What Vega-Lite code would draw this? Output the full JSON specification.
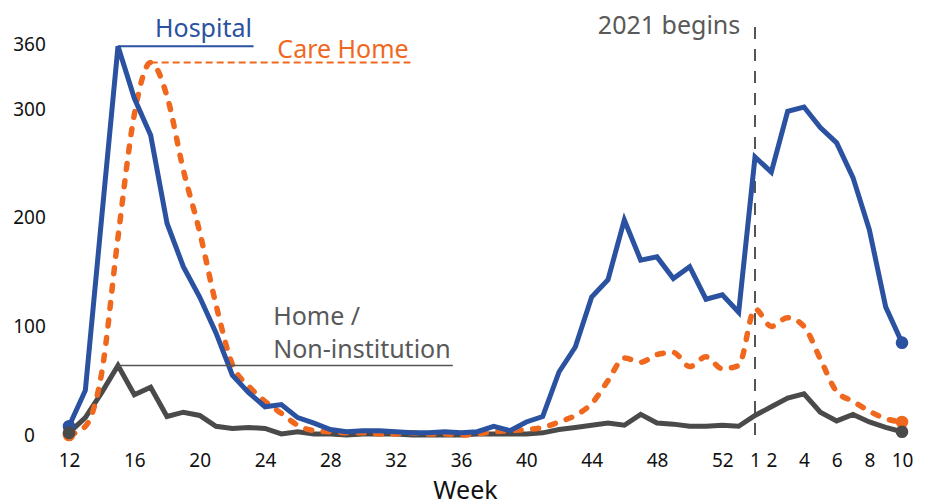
{
  "$schema": "https://vega.github.io/schema/vega-lite/v6.json",
  "width": 833,
  "height": 391,
  "autosize": {"type": "none"},
  "padding": {"left": 69, "top": 44, "right": 28, "bottom": 69},
  "background": "white",
  "config": {
    "view": {"stroke": null},
    "font": "Noto Sans",
    "axis": {"domain": false, "ticks": false, "tickSize": 0, "grid": false, "labelFont": "Noto Sans", "labelColor": "#111111", "labelFontSize": 19, "labelFontWeight": "normal", "titleFont": "Noto Sans"}
  },
  "datasets": {
    "d": [
      {"i":0,"week":12,"series":"Hospital","value":8},{"i":1,"week":13,"series":"Hospital","value":41},{"i":2,"week":14,"series":"Hospital","value":200},{"i":3,"week":15,"series":"Hospital","value":358},{"i":4,"week":16,"series":"Hospital","value":310},{"i":5,"week":17,"series":"Hospital","value":276},{"i":6,"week":18,"series":"Hospital","value":195},{"i":7,"week":19,"series":"Hospital","value":155},{"i":8,"week":20,"series":"Hospital","value":127},{"i":9,"week":21,"series":"Hospital","value":94},{"i":10,"week":22,"series":"Hospital","value":55},{"i":11,"week":23,"series":"Hospital","value":39},{"i":12,"week":24,"series":"Hospital","value":26},{"i":13,"week":25,"series":"Hospital","value":28},{"i":14,"week":26,"series":"Hospital","value":16},{"i":15,"week":27,"series":"Hospital","value":11},{"i":16,"week":28,"series":"Hospital","value":5},{"i":17,"week":29,"series":"Hospital","value":3},{"i":18,"week":30,"series":"Hospital","value":4},{"i":19,"week":31,"series":"Hospital","value":4},{"i":20,"week":32,"series":"Hospital","value":3},{"i":21,"week":33,"series":"Hospital","value":2},{"i":22,"week":34,"series":"Hospital","value":2},{"i":23,"week":35,"series":"Hospital","value":3},{"i":24,"week":36,"series":"Hospital","value":2},{"i":25,"week":37,"series":"Hospital","value":3},{"i":26,"week":38,"series":"Hospital","value":8},{"i":27,"week":39,"series":"Hospital","value":4},{"i":28,"week":40,"series":"Hospital","value":12},{"i":29,"week":41,"series":"Hospital","value":17},{"i":30,"week":42,"series":"Hospital","value":58},{"i":31,"week":43,"series":"Hospital","value":81},{"i":32,"week":44,"series":"Hospital","value":127},{"i":33,"week":45,"series":"Hospital","value":143},{"i":34,"week":46,"series":"Hospital","value":198},{"i":35,"week":47,"series":"Hospital","value":161},{"i":36,"week":48,"series":"Hospital","value":164},{"i":37,"week":49,"series":"Hospital","value":144},{"i":38,"week":50,"series":"Hospital","value":155},{"i":39,"week":51,"series":"Hospital","value":125},{"i":40,"week":52,"series":"Hospital","value":129},{"i":41,"week":53,"series":"Hospital","value":113},{"i":42,"week":1,"series":"Hospital","value":256},{"i":43,"week":2,"series":"Hospital","value":242},{"i":44,"week":3,"series":"Hospital","value":298},{"i":45,"week":4,"series":"Hospital","value":302},{"i":46,"week":5,"series":"Hospital","value":283},{"i":47,"week":6,"series":"Hospital","value":269},{"i":48,"week":7,"series":"Hospital","value":237},{"i":49,"week":8,"series":"Hospital","value":189},{"i":50,"week":9,"series":"Hospital","value":118},{"i":51,"week":10,"series":"Hospital","value":85},
      {"i":0,"week":12,"series":"Care Home","value":0},{"i":1,"week":13,"series":"Care Home","value":8},{"i":2,"week":14,"series":"Care Home","value":57},{"i":3,"week":15,"series":"Care Home","value":182},{"i":4,"week":16,"series":"Care Home","value":295},{"i":5,"week":17,"series":"Care Home","value":343},{"i":6,"week":18,"series":"Care Home","value":312},{"i":7,"week":19,"series":"Care Home","value":244},{"i":8,"week":20,"series":"Care Home","value":187},{"i":9,"week":21,"series":"Care Home","value":120},{"i":10,"week":22,"series":"Care Home","value":65},{"i":11,"week":23,"series":"Care Home","value":45},{"i":12,"week":24,"series":"Care Home","value":31},{"i":13,"week":25,"series":"Care Home","value":20},{"i":14,"week":26,"series":"Care Home","value":9},{"i":15,"week":27,"series":"Care Home","value":4},{"i":16,"week":28,"series":"Care Home","value":3},{"i":17,"week":29,"series":"Care Home","value":2},{"i":18,"week":30,"series":"Care Home","value":2},{"i":19,"week":31,"series":"Care Home","value":1},{"i":20,"week":32,"series":"Care Home","value":1},{"i":21,"week":33,"series":"Care Home","value":2},{"i":22,"week":34,"series":"Care Home","value":1},{"i":23,"week":35,"series":"Care Home","value":1},{"i":24,"week":36,"series":"Care Home","value":0},{"i":25,"week":37,"series":"Care Home","value":1},{"i":26,"week":38,"series":"Care Home","value":3},{"i":27,"week":39,"series":"Care Home","value":4},{"i":28,"week":40,"series":"Care Home","value":5},{"i":29,"week":41,"series":"Care Home","value":7},{"i":30,"week":42,"series":"Care Home","value":12},{"i":31,"week":43,"series":"Care Home","value":18},{"i":32,"week":44,"series":"Care Home","value":29},{"i":33,"week":45,"series":"Care Home","value":50},{"i":34,"week":46,"series":"Care Home","value":71},{"i":35,"week":47,"series":"Care Home","value":67},{"i":36,"week":48,"series":"Care Home","value":74},{"i":37,"week":49,"series":"Care Home","value":76},{"i":38,"week":50,"series":"Care Home","value":63},{"i":39,"week":51,"series":"Care Home","value":72},{"i":40,"week":52,"series":"Care Home","value":61},{"i":41,"week":53,"series":"Care Home","value":64},{"i":42,"week":1,"series":"Care Home","value":116},{"i":43,"week":2,"series":"Care Home","value":100},{"i":44,"week":3,"series":"Care Home","value":108},{"i":45,"week":4,"series":"Care Home","value":100},{"i":46,"week":5,"series":"Care Home","value":70},{"i":47,"week":6,"series":"Care Home","value":40},{"i":48,"week":7,"series":"Care Home","value":31},{"i":49,"week":8,"series":"Care Home","value":22},{"i":50,"week":9,"series":"Care Home","value":15},{"i":51,"week":10,"series":"Care Home","value":12},
      {"i":0,"week":12,"series":"Home","value":2},{"i":1,"week":13,"series":"Home","value":16},{"i":2,"week":14,"series":"Home","value":39},{"i":3,"week":15,"series":"Home","value":64},{"i":4,"week":16,"series":"Home","value":37},{"i":5,"week":17,"series":"Home","value":44},{"i":6,"week":18,"series":"Home","value":17},{"i":7,"week":19,"series":"Home","value":21},{"i":8,"week":20,"series":"Home","value":18},{"i":9,"week":21,"series":"Home","value":8},{"i":10,"week":22,"series":"Home","value":6},{"i":11,"week":23,"series":"Home","value":7},{"i":12,"week":24,"series":"Home","value":6},{"i":13,"week":25,"series":"Home","value":1},{"i":14,"week":26,"series":"Home","value":3},{"i":15,"week":27,"series":"Home","value":1},{"i":16,"week":28,"series":"Home","value":1},{"i":17,"week":29,"series":"Home","value":0},{"i":18,"week":30,"series":"Home","value":1},{"i":19,"week":31,"series":"Home","value":1},{"i":20,"week":32,"series":"Home","value":1},{"i":21,"week":33,"series":"Home","value":0},{"i":22,"week":34,"series":"Home","value":0},{"i":23,"week":35,"series":"Home","value":0},{"i":24,"week":36,"series":"Home","value":0},{"i":25,"week":37,"series":"Home","value":1},{"i":26,"week":38,"series":"Home","value":1},{"i":27,"week":39,"series":"Home","value":1},{"i":28,"week":40,"series":"Home","value":1},{"i":29,"week":41,"series":"Home","value":2},{"i":30,"week":42,"series":"Home","value":5},{"i":31,"week":43,"series":"Home","value":7},{"i":32,"week":44,"series":"Home","value":9},{"i":33,"week":45,"series":"Home","value":11},{"i":34,"week":46,"series":"Home","value":9},{"i":35,"week":47,"series":"Home","value":19},{"i":36,"week":48,"series":"Home","value":11},{"i":37,"week":49,"series":"Home","value":10},{"i":38,"week":50,"series":"Home","value":8},{"i":39,"week":51,"series":"Home","value":8},{"i":40,"week":52,"series":"Home","value":9},{"i":41,"week":53,"series":"Home","value":8},{"i":42,"week":1,"series":"Home","value":18},{"i":43,"week":2,"series":"Home","value":26},{"i":44,"week":3,"series":"Home","value":34},{"i":45,"week":4,"series":"Home","value":38},{"i":46,"week":5,"series":"Home","value":21},{"i":47,"week":6,"series":"Home","value":13},{"i":48,"week":7,"series":"Home","value":19},{"i":49,"week":8,"series":"Home","value":12},{"i":50,"week":9,"series":"Home","value":7},{"i":51,"week":10,"series":"Home","value":3}
    ]
  },
  "data": {"name": "d"},
  "encoding": {
    "x": {"field": "i", "type": "quantitative",
      "scale": {"domain": [0, 51], "nice": false, "zero": false},
      "axis": {"values": [0,4,8,12,16,20,24,28,32,36,40,42,43,45,47,49,51],
        "labelExpr": "datum.value <= 41 ? '' + (datum.value + 12) : '' + (datum.value - 41)",
        "labelPadding": 16, "labelFlush": false, "title": "Week", "titleFontSize": 25, "titleFontWeight": "normal", "titleColor": "#111111",
        "titleX": 396, "titleY": 63, "titleBaseline": "alphabetic", "titleAnchor": "start", "titleAlign": "center"}},
    "y": {"field": "value", "type": "quantitative",
      "scale": {"domain": [0, 360], "nice": false},
      "axis": {"values": [0, 100, 200, 300, 360], "labelAlign": "center", "labelPadding": 40, "title": null}}
  },
  "layer": [
    {"transform": [{"filter": "datum.i == 0 && datum.series == 'Hospital'"}],
     "mark": {"type": "rule", "color": "#555555", "strokeWidth": 2, "strokeDash": [12, 10]},
     "encoding": {"x": {"datum": 42}, "y": {"datum": 0}, "y2": {"datum": 380.6}}},
    {"transform": [{"filter": "datum.series == 'Home'"}],
     "mark": {"type": "line", "color": "#4a4a4a", "strokeWidth": 5}},
    {"transform": [{"filter": "datum.series == 'Care Home'"}],
     "mark": {"type": "line", "color": "#f0681e", "strokeWidth": 5.5, "strokeDash": [6, 11.5], "strokeCap": "round", "interpolate": "monotone"}},
    {"transform": [{"filter": "datum.series == 'Hospital'"}],
     "mark": {"type": "line", "color": "#2a52a0", "strokeWidth": 5}},
    {"transform": [{"filter": "datum.i == 0 || datum.i == 51"}],
     "mark": {"type": "circle", "size": 160, "opacity": 1},
     "encoding": {"color": {"field": "series", "type": "nominal", "legend": null,
       "scale": {"domain": ["Hospital", "Care Home", "Home"], "range": ["#2a52a0", "#f0681e", "#4a4a4a"]}}}},
    {"transform": [{"filter": "datum.i == 0 && datum.series == 'Hospital'"}],
     "mark": {"type": "rule", "color": "#2a52a0", "strokeWidth": 2},
     "encoding": {"x": {"datum": 3}, "x2": {"datum": 11.3}, "y": {"datum": 358}}},
    {"transform": [{"filter": "datum.i == 0 && datum.series == 'Hospital'"}],
     "mark": {"type": "rule", "color": "#f0681e", "strokeWidth": 2, "strokeDash": [7, 4]},
     "encoding": {"x": {"datum": 5}, "x2": {"datum": 20.9}, "y": {"datum": 343}}},
    {"transform": [{"filter": "datum.i == 0 && datum.series == 'Hospital'"}],
     "mark": {"type": "rule", "color": "#555555", "strokeWidth": 1.5},
     "encoding": {"x": {"datum": 3}, "x2": {"datum": 23.5}, "y": {"datum": 64}}},
    {"transform": [{"filter": "datum.i == 0 && datum.series == 'Hospital'"}],
     "mark": {"type": "text", "text": "Hospital", "align": "right", "baseline": "alphabetic", "font": "Noto Sans", "fontSize": 25, "fill": "#2a52a0"},
     "encoding": {"x": {"datum": 11.2}, "y": {"datum": 366.8}}},
    {"transform": [{"filter": "datum.i == 0 && datum.series == 'Hospital'"}],
     "mark": {"type": "text", "text": "Care Home", "align": "right", "baseline": "alphabetic", "font": "Noto Sans", "fontSize": 25, "fill": "#f0681e"},
     "encoding": {"x": {"datum": 20.8}, "y": {"datum": 347.5}}},
    {"transform": [{"filter": "datum.i == 0 && datum.series == 'Hospital'"}],
     "mark": {"type": "text", "text": "Home /", "align": "left", "baseline": "alphabetic", "font": "Noto Sans", "fontSize": 25, "fill": "#595959"},
     "encoding": {"x": {"datum": 12.5}, "y": {"datum": 101.4}}},
    {"transform": [{"filter": "datum.i == 0 && datum.series == 'Hospital'"}],
     "mark": {"type": "text", "text": "Non-institution", "align": "left", "baseline": "alphabetic", "font": "Noto Sans", "fontSize": 25, "fill": "#595959"},
     "encoding": {"x": {"datum": 12.5}, "y": {"datum": 71}}},
    {"transform": [{"filter": "datum.i == 0 && datum.series == 'Hospital'"}],
     "mark": {"type": "text", "text": "2021 begins", "align": "right", "baseline": "alphabetic", "font": "Noto Sans", "fontSize": 25, "fill": "#595959"},
     "encoding": {"x": {"datum": 41.1}, "y": {"datum": 369.6}}}
  ]
}
